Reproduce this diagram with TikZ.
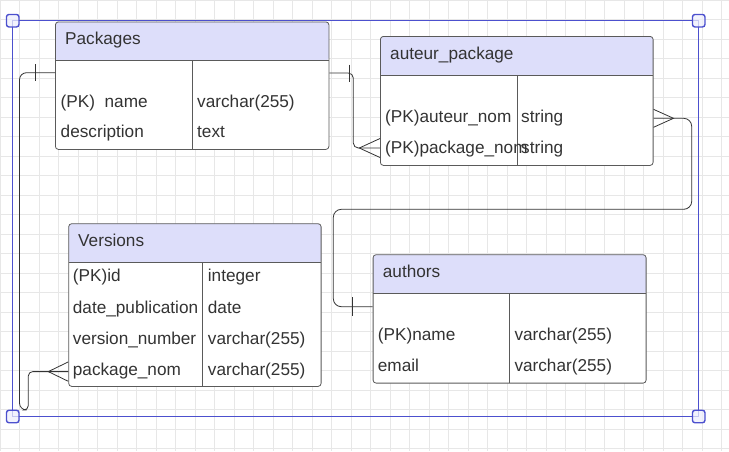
\documentclass[tikz,border=0pt]{standalone}
\usepackage{fontspec}
\setmainfont{Liberation Sans}
\definecolor{hdrfill}{RGB}{221,222,250}
\definecolor{edge}{RGB}{90,90,90}
\definecolor{ink}{RGB}{51,51,51}
\definecolor{selblue}{RGB}{76,80,206}
\definecolor{handlefill}{RGB}{238,239,252}
\definecolor{gridc}{RGB}{231,231,231}
\tikzset{
  tbl/.style={draw=edge, fill=white, rounded corners=3pt, line width=0.8pt,
    inner sep=0pt, anchor=north west},
  ertab/.style 2 args={path picture={
    \fill[hdrfill] (path picture bounding box.north west)
      rectangle ([yshift=-#1]path picture bounding box.north east);
    \draw[edge, line width=0.8pt] ([yshift=-#1]path picture bounding box.north west)
      -- ([yshift=-#1]path picture bounding box.north east);
    \draw[edge, line width=0.8pt] ([xshift=#2,yshift=-#1]path picture bounding box.north west)
      -- ([xshift=#2]path picture bounding box.south west);}},
  field/.style={anchor=base west, inner sep=0pt, text=ink,
    font=\fontsize{17.2}{20}\selectfont},
  conn/.style={draw=ink, line width=0.8pt},
  handle/.style={draw=selblue, fill=handlefill, fill opacity=0.75, rounded corners=2.5pt,
    minimum size=12.5pt, inner sep=0pt, line width=1.4pt}
}
\begin{document}
\begin{tikzpicture}[x=1pt, y=-1pt]
\useasboundingbox (0,0) rectangle (729,451);
% grid
\foreach \i in {0,...,37} \draw[gridc, line width=0.7pt] (19.5*\i,0) -- (19.5*\i,451);
\foreach \j in {0,...,23} \draw[gridc, line width=0.7pt] (0,19.5*\j) -- (729,19.5*\j);

% tables
\node (pkg) [tbl, ertab={38.5pt}{136.7pt}, minimum width=273.5pt, minimum height=127.5pt] at (55,21.5) {};
\node (pkgT) [field] at (65,44.5) {Packages};
\node (pkgN) [field] at (60.5,107) {(PK)~~name};
\node (pkgNt) [field] at (197,107) {varchar(255)};
\node (pkgD) [field] at (60.5,137.5) {description};
\node (pkgDt) [field] at (197,137.5) {text};

\node (ap) [tbl, ertab={39pt}{136.7pt}, minimum width=272.7pt, minimum height=129pt] at (380,36) {};
\node (apT) [field] at (390,59.3) {auteur\_package};
\node (apA) [field] at (385,122.7) {(PK)auteur\_nom};
\node (apAt) [field] at (521,122.7) {string};
\node (apP) [field] at (385,153.7) {(PK)package\_nom};
\node (apPt) [field] at (521,153.7) {string};

\node (ver) [tbl, ertab={39pt}{134pt}, minimum width=252.4pt, minimum height=162.7pt] at (68.3,223.3) {};
\node (verT) [field] at (78,246.7) {Versions};
\node (verI) [field] at (72.7,281.7) {(PK)id};
\node (verIt) [field] at (207.7,281.7) {integer};
\node (verD) [field] at (72.7,313) {date\_publication};
\node (verDt) [field] at (207.7,313) {date};
\node (verV) [field] at (72.7,344.3) {version\_number};
\node (verVt) [field] at (207.7,344.3) {varchar(255)};
\node (verP) [field] at (72.7,375.3) {package\_nom};
\node (verPt) [field] at (207.7,375.3) {varchar(255)};

\node (au) [tbl, ertab={39pt}{136.6pt}, minimum width=273pt, minimum height=128.4pt] at (372.7,254.3) {};
\node (auT) [field] at (382.7,277.7) {authors};
\node (auN) [field] at (377.7,340.3) {(PK)name};
\node (auNt) [field] at (514.3,340.3) {varchar(255)};
\node (auE) [field] at (377.7,371) {email};
\node (auEt) [field] at (514.3,371) {varchar(255)};

% connector ends
\coordinate (pkgL) at ([yshift=-51.2pt]pkg.north west);
\coordinate (pkgR) at ([yshift=-51.5pt]pkg.north east);
\coordinate (apL) at ([yshift=-112pt]ap.north west);
\coordinate (apR) at ([yshift=-82.3pt]ap.north east);
\coordinate (verL) at ([yshift=-148.3pt]ver.north west);
\coordinate (auL) at ([yshift=-52.4pt]au.north west);

% Packages -> Versions
\draw[conn, rounded corners=7pt] (pkgL) -| (19.5,410) [rounded corners=4.4pt] -| (28.3,371.6) -- (verL);
\draw[conn] ([xshift=-20pt,yshift=8.5pt]pkgL) -- ([xshift=-20pt,yshift=-8.5pt]pkgL);
\draw[conn] ([yshift=9.7pt]verL) -- ([xshift=-20pt]verL) -- ([yshift=-9.7pt]verL);
% Packages -> auteur_package
\draw[conn, rounded corners=5pt] (pkgR) -| (353.3,148) -- (apL);
\draw[conn] ([xshift=20pt,yshift=8.5pt]pkgR) -- ([xshift=20pt,yshift=-8.5pt]pkgR);
\draw[conn] ([yshift=9.5pt]apL) -- ([xshift=-20.7pt]apL) -- ([yshift=-9.5pt]apL);
% authors -> auteur_package
\draw[conn, rounded corners=8pt] (apR) -| (691.7,209.3) -| (333.3,306.7) -- (auL);
\draw[conn] ([yshift=9pt]apR) -- ([xshift=20pt]apR) -- ([yshift=-9pt]apR);
\draw[conn] ([xshift=-20.4pt,yshift=9.5pt]auL) -- ([xshift=-20.4pt,yshift=-9.5pt]auL);

% selection
\coordinate (selTL) at (12.7,20.7);
\coordinate (selBR) at (698.7,416.5);
\draw[selblue, line width=1.4pt] (selTL) rectangle (selBR);
\node (hTL) [handle] at (selTL) {};
\node (hTR) [handle] at (selTL -| selBR) {};
\node (hBL) [handle] at (selBR -| selTL) {};
\node (hBR) [handle] at (selBR) {};
\end{tikzpicture}
\end{document}
